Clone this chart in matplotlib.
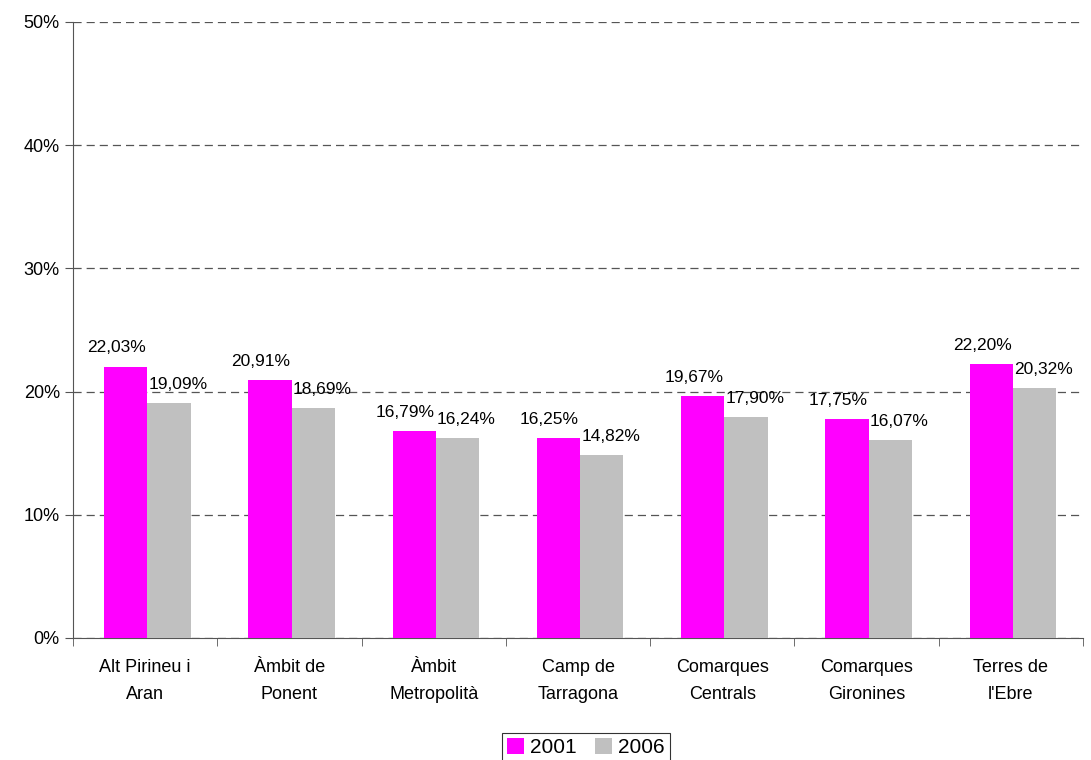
import numpy as np
import matplotlib.pyplot as plt

plt.rcParams['font.family'] = ['Liberation Sans', 'DejaVu Sans']

categories = ["Alt Pirineu i\nAran", "Àmbit de\nPonent", "Àmbit\nMetropolità",
              "Camp de\nTarragona", "Comarques\nCentrals", "Comarques\nGironines",
              "Terres de\nl'Ebre"]
v2001 = [22.03, 20.91, 16.79, 16.25, 19.67, 17.75, 22.20]
v2006 = [19.09, 18.69, 16.24, 14.82, 17.90, 16.07, 20.32]
series_labels = ["2001", "2006"]

fig = plt.figure(figsize=(10.91, 7.6), dpi=100)
ax = fig.add_axes([73 / 1091, 1 - 638 / 760, (1083 - 73) / 1091, (638 - 22) / 760])

x = np.arange(len(categories))
w = 0.3
b1 = ax.bar(x - w / 2 + 0.015, v2001, w, color="#ff00ff", label=series_labels[0], zorder=3)
b2 = ax.bar(x + w / 2 + 0.015, v2006, w, color="#c0c0c0", label=series_labels[1], zorder=3)

def fmt(v):
    return f"{v:.2f}%".replace(".", ",")

for bars, vals, dx in ((b1, v2001, -6.5), (b2, v2006, 6.5)):
    for r, v in zip(bars, vals):
        ax.annotate(fmt(v), (r.get_x() + r.get_width() / 2, v),
                    xytext=(dx, 8), textcoords="offset points",
                    ha="center", va="bottom", fontsize=12.5, zorder=4)

ax.set_xlim(-0.5, len(categories) - 0.5)
ax.set_ylim(0, 50)
ax.set_yticks(range(0, 51, 10))
ax.set_yticklabels([f"{t}%" for t in range(0, 51, 10)], fontsize=13)
ax.yaxis.grid(True, linestyle=(0, (6.5, 4)), color="#555555", linewidth=0.9, zorder=0)

ax.set_xticks(x)
ax.set_xticklabels(categories, fontsize=13, linespacing=1.8)
ax.tick_params(axis="x", length=0, pad=15)
ax.set_xticks(np.arange(-0.5, len(categories)), minor=True)
ax.tick_params(axis="x", which="minor", length=6, color="#555555")
ax.tick_params(axis="y", length=6, color="#555555")

for s in ("top", "right"):
    ax.spines[s].set_visible(False)
for s in ("left", "bottom"):
    ax.spines[s].set_color("#555555")

leg = fig.legend(loc="lower center", bbox_to_anchor=(0.537, -0.003), ncol=2, fontsize=15,
                 frameon=True, fancybox=False, handlelength=0.8, handleheight=0.8,
                 handletextpad=0.3, columnspacing=0.9, borderpad=0.25, borderaxespad=0)
leg.get_frame().set_edgecolor("black")
leg.get_frame().set_linewidth(0.8)

fig.savefig("out.png", dpi=100)
